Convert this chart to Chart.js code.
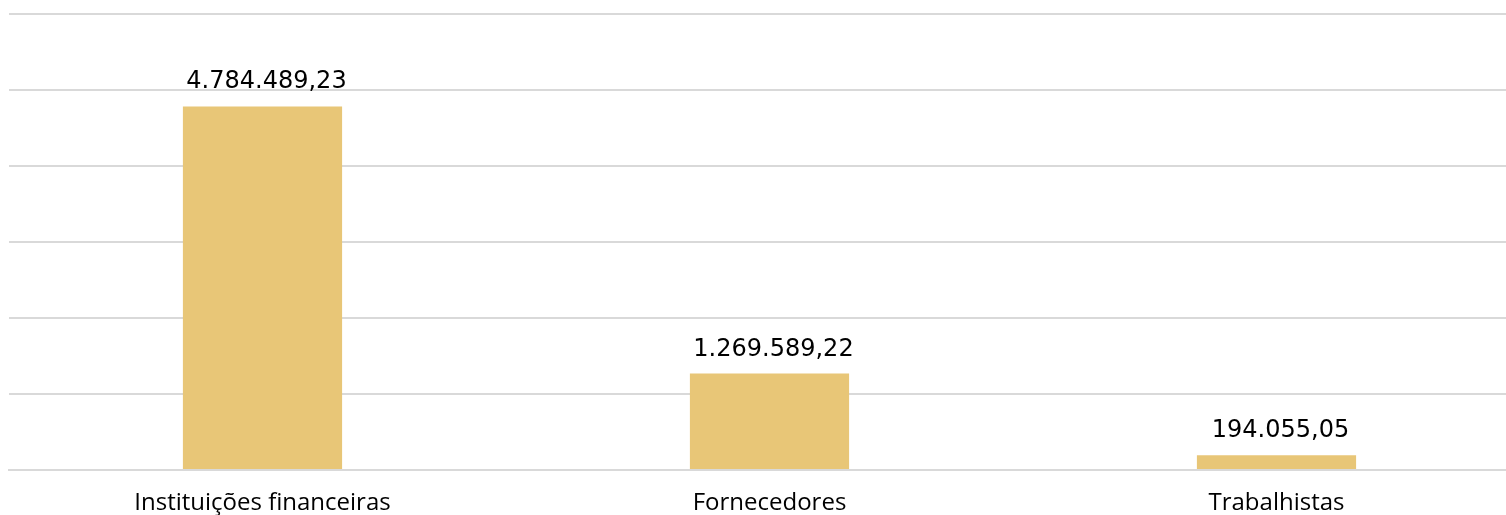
<!DOCTYPE html>
<html>
<head>
<meta charset="utf-8">
<script src="https://cdn.jsdelivr.net/npm/chart.js@4"></script>
<style>
  html, body { margin: 0; padding: 0; overflow: hidden; background: #fff; }
  #caixa { width: 1530px; height: 515px; }
</style>
</head>
<body>
<div id="caixa"><canvas id="grafico"></canvas></div>
<script>
const categorias = ["Instituições financeiras", "Fornecedores", "Trabalhistas"];
const valores = [4784489.23, 1269589.22, 194055.05];

const fonteValor = "'DejaVu Sans', sans-serif";
const fonteEixo = "'Open Sans', sans-serif";

const formatar = (v) =>
  v.toLocaleString("pt-BR", { minimumFractionDigits: 2, maximumFractionDigits: 2 });

// escreve o valor em cima de cada barra
const rotulos = {
  id: "rotulos",
  afterDatasetsDraw(chart) {
    const ctx = chart.ctx;
    ctx.save();
    ctx.font = "24px " + fonteValor;
    ctx.fillStyle = "#000";
    ctx.textAlign = "center";
    ctx.textBaseline = "alphabetic";
    chart.getDatasetMeta(0).data.forEach((barra, i) => {
      ctx.fillText(formatar(valores[i]), barra.x + 4, barra.y - 18);
    });
    ctx.restore();
  },
};

const ctx = document.getElementById("grafico").getContext("2d");
new Chart(ctx, {
  type: "bar",
  data: {
    labels: categorias,
    datasets: [
      {
        data: valores,
        backgroundColor: "#e8c677",
        categoryPercentage: 1,
        barPercentage: 0.314,
      },
    ],
  },
  options: {
    responsive: true,
    maintainAspectRatio: false,
    animation: false,
    layout: { padding: { left: 9, top: 14, right: 0, bottom: 0 } },
    plugins: { legend: { display: false }, tooltip: { enabled: false } },
    scales: {
      x: {
        grid: { display: false },
        border: { color: "#d9d9d9", width: 2 },
        ticks: { color: "#000", font: { family: fonteEixo, size: 24 }, padding: 11 },
        afterFit: (s) => { s.height = 45; },
      },
      y: {
        min: 0,
        max: 6000000,
        ticks: { display: false, stepSize: 1000000 },
        border: { display: false },
        grid: { color: "#d9d9d9", lineWidth: 2, drawTicks: false },
        afterFit: (s) => { s.width = 0; },
      },
    },
  },
  plugins: [rotulos],
});
</script>
</body>
</html>
